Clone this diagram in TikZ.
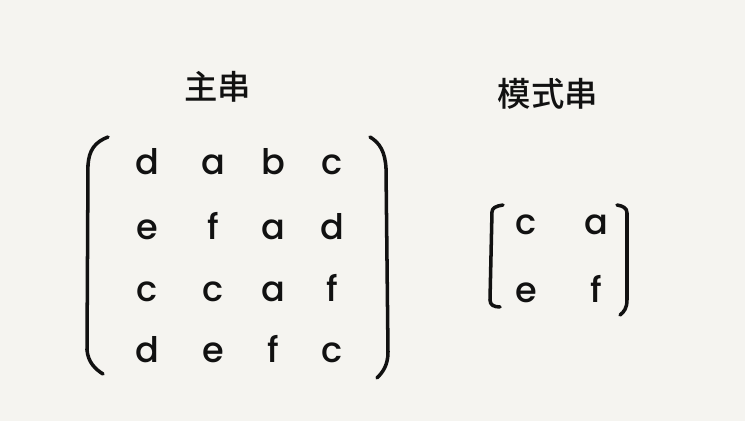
\documentclass[tikz,border=0pt]{standalone}
\usepackage{fontspec}
\setmainfont{Poppins}[BoldFont={Poppins Medium}]
\newfontfamily\cjk{Noto Sans CJK SC}[BoldFont={Noto Sans CJK SC Medium}]
\usetikzlibrary{positioning}
\definecolor{paper}{HTML}{F5F4F0}
\definecolor{ink}{HTML}{111111}
\tikzset{
  entry/.style={anchor=base,text=ink,inner sep=0pt,font=\bfseries\fontsize{20}{22}\selectfont},
  title/.style={text=ink,font=\cjk\bfseries\fontsize{19}{22}\selectfont},
  fence/.style={draw=ink,line width=2pt,line cap=round,line join=round}
}

\begin{document}
\begin{tikzpicture}[x=0.02cm,y=-0.02cm]
  \fill[paper] (0,0) rectangle (745,421);
  \useasboundingbox (0,0) rectangle (745,421);
  % titles
  \node[title] (main) at (218,87) {主串};
  \node[title] (pattern) at (548,94) {模式串};
  % main string
  \foreach \r/\y/\letters in {1/175/{d,a,b,c},2/240/{e,f,a,d},3/302/{c,c,a,f},4/363/{d,e,f,c}}{
    \foreach \ch [count=\c] in \letters{
      \pgfmathsetmacro\x{{147,213,273,332}[\c-1]}
      \node[entry] (m-\r-\c) at (\x,\y) {\ch};
    }
  }
  \draw[fence] (108,137) .. controls (95,142) and (89,150) .. (88,165) -- (87,350)
    .. controls (88,362) and (95,369) .. (103,374);
  \draw[fence] (370,137) .. controls (380,143) and (385,152) .. (386,168) -- (388,352)
    .. controls (388,365) and (383,372) .. (377,378);
  % pattern string
  \foreach \r/\y/\letters in {1/235/{c,a},2/303/{e,f}}{
    \foreach \ch [count=\c] in \letters{
      \pgfmathsetmacro\x{{526,596}[\c-1]}
      \node[entry] (p-\r-\c) at (\x,\y) {\ch};
    }
  }
  \draw[fence] (503,205) .. controls (496,206) and (492,208) .. (492,212) -- (490,300)
    .. controls (490,305) and (494,307) .. (500,307);
  \draw[fence] (617,205) .. controls (623,206) and (627,208) .. (627,213) -- (627,300)
    .. controls (627,308) and (624,312) .. (620,315);
\end{tikzpicture}
\end{document}
